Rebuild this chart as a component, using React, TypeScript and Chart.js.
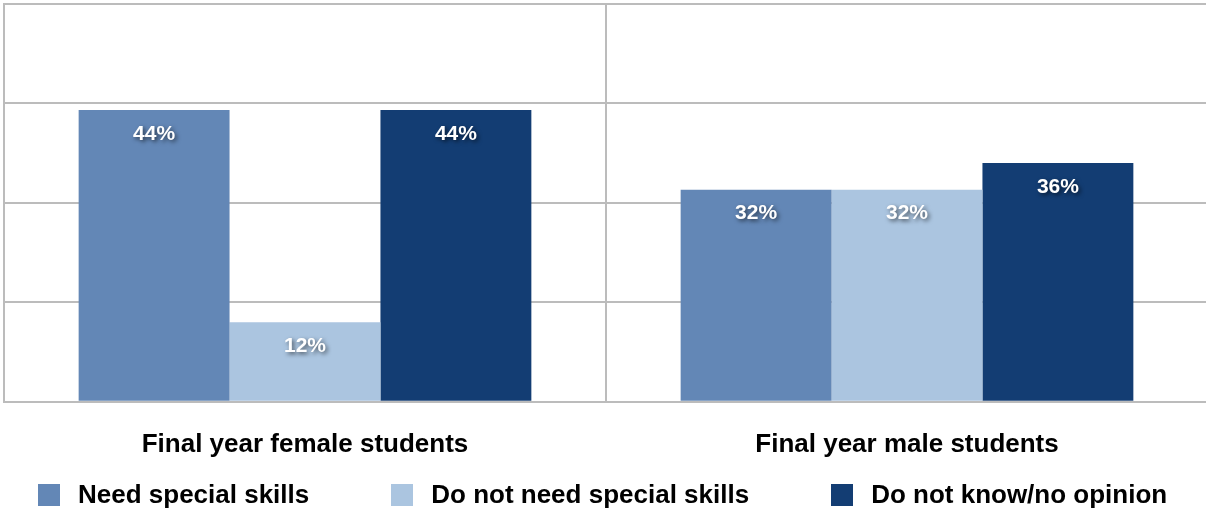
import React, { useEffect, useRef } from "react";
import { Chart, registerables } from "chart.js";

Chart.register(...registerables);

const categories = ["Final year female students", "Final year male students"];
const seriesNames = ["Need special skills", "Do not need special skills", "Do not know/no opinion"];
const needSkills = [44, 32];
const noSkills = [12, 32];
const dontKnow = [44, 36];
const seriesColors = ["#6387b6", "#abc5e0", "#133d73"];
const yMin = 0;
const yMax = 60;
const yStep = 15;

const FONT = "'Liberation Sans', Arial, Helvetica, sans-serif";
const GRID = "#bcbcbc";

const valueLabels = {
  id: "valueLabels",
  afterDatasetsDraw(chart: any) {
    const ctx = chart.ctx;
    ctx.save();
    ctx.font = `bold 21px ${FONT}`;
    ctx.fillStyle = "#ffffff";
    ctx.textAlign = "center";
    ctx.textBaseline = "middle";
    ctx.shadowColor = "rgba(0,0,0,0.6)";
    ctx.shadowBlur = 4;
    ctx.shadowOffsetX = 2;
    ctx.shadowOffsetY = 2;
    chart.data.datasets.forEach((ds: any, i: number) => {
      const meta = chart.getDatasetMeta(i);
      meta.data.forEach((bar: any, j: number) => {
        ctx.fillText(`${ds.data[j]}%`, bar.x, bar.y + 24);
      });
    });
    ctx.restore();
  },
};

export default function App() {
  const ref = useRef<HTMLCanvasElement | null>(null);

  useEffect(() => {
    if (!ref.current) return;
    const seriesData = [needSkills, noSkills, dontKnow];
    const chart = new Chart(ref.current, {
      type: "bar",
      data: {
        labels: categories,
        datasets: seriesNames.map((name, i) => ({
          label: name,
          data: seriesData[i],
          backgroundColor: seriesColors[i],
          borderWidth: 0,
          categoryPercentage: 0.752,
          barPercentage: 1.0,
        })),
      },
      options: {
        responsive: true,
        maintainAspectRatio: false,
        animation: false,
        layout: { padding: { left: 4, top: 4, right: 4, bottom: 11 } },
        plugins: {
          legend: { display: false },
          tooltip: { enabled: false },
        },
        scales: {
          x: {
            grid: { color: GRID, lineWidth: 2, drawTicks: false, offset: true },
            border: { color: GRID, width: 2 },
            ticks: {
              color: "#000000",
              padding: 27,
              font: { family: FONT, size: 26, weight: "bold" },
            },
          },
          y: {
            min: yMin,
            max: yMax,
            grid: { color: GRID, lineWidth: 2, drawTicks: false },
            border: { color: GRID, width: 2 },
            ticks: { display: false, stepSize: yStep },
          },
        },
      },
      plugins: [valueLabels],
    });
    return () => chart.destroy();
  }, []);

  return (
    <div
      style={{
        position: "absolute",
        left: 0,
        top: 0,
        width: 1206,
        height: 509,
        overflow: "hidden",
        background: "#ffffff",
      }}
    >
      <div style={{ position: "absolute", left: 0, top: 0, width: 1212, height: 498 }}>
        <canvas ref={ref} />
      </div>
      <div
        style={{
          position: "absolute",
          left: 0,
          top: 480,
          width: 1206,
          height: 29,
          display: "flex",
          alignItems: "center",
          paddingLeft: 38,
          boxSizing: "border-box",
          fontFamily: FONT,
          fontWeight: "bold",
          fontSize: 26,
          color: "#000",
          whiteSpace: "nowrap",
        }}
      >
        {seriesNames.map((name, i) => (
          <div
            key={name}
            style={{ display: "flex", alignItems: "center", marginLeft: i === 0 ? 0 : 82 }}
          >
            <span
              style={{
                display: "inline-block",
                width: 22,
                height: 22,
                background: seriesColors[i],
                marginRight: 18,
              }}
            />
            <span>{name}</span>
          </div>
        ))}
      </div>
    </div>
  );
}
